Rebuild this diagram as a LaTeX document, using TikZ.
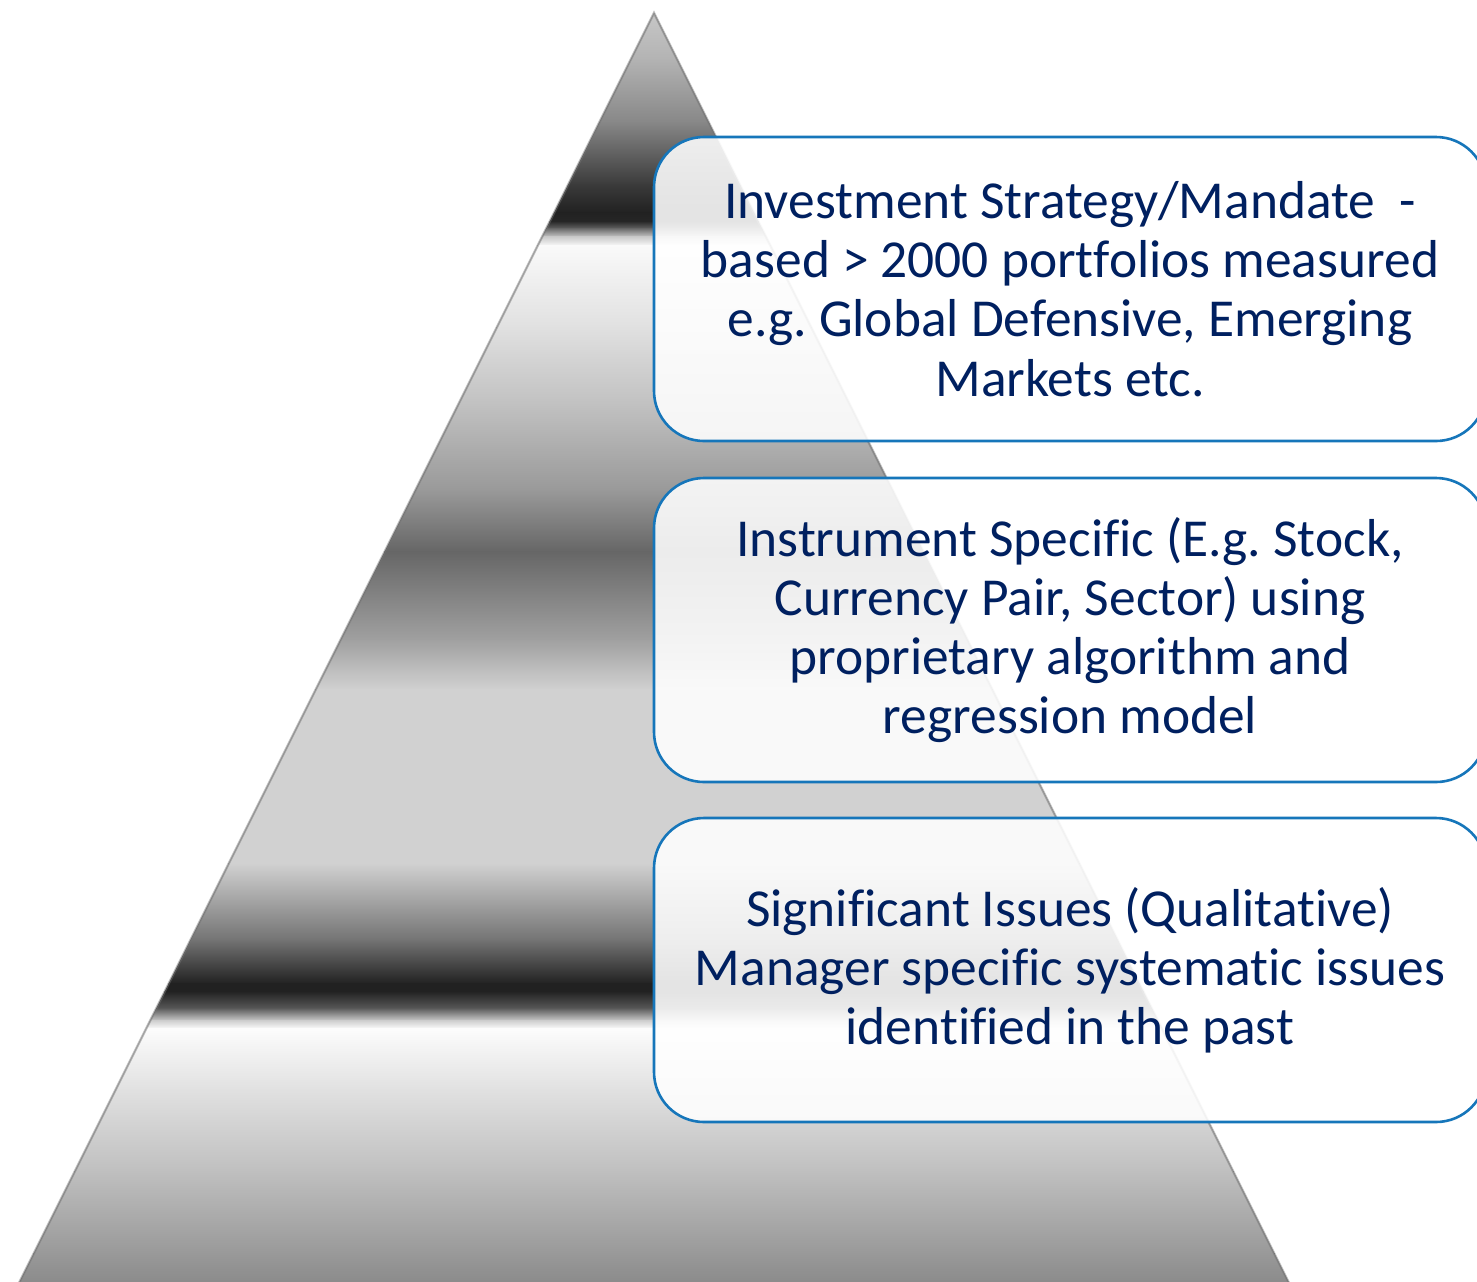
\documentclass[tikz,border=0pt]{standalone}
\usepackage{fontspec}
\setmainfont{Carlito}[Ligatures=NoCommon]
\definecolor{boxblue}{RGB}{22,118,186}
\definecolor{navytext}{RGB}{0,32,96}
\tikzset{
  infobox/.style={draw=boxblue, line width=1.3pt, fill=white, fill opacity=0.88, text opacity=1,
    rounded corners=25pt, minimum width=416pt, minimum height=152pt, align=center,
    text=navytext, font=\fontsize{26.7}{29.6}\selectfont\frenchspacing, inner sep=0pt},
  pyredge/.style={draw=black!55, line width=1.2pt, opacity=0.5}
}
\begin{document}
\begin{tikzpicture}[x=0.5pt,y=-0.5pt]
\useasboundingbox (0,0) rectangle (1477,1281);
\clip (0,0) rectangle (1477,1281);
\fill[white] (0,0) rectangle (1477,1281);
% pyramid
\coordinate (apex) at (654,13);
\coordinate (bl) at (15,1291);
\coordinate (br) at (1293,1291);
\begin{scope}
  \clip (apex) -- (bl) -- (br) -- cycle;
  \foreach \ya/\la/\yb/\lb in {
    0/80/60/70, 60/70/122/53, 122/53/184/23, 184/23/212/13, 212/13/221/15,
    221/15/228/40, 228/40/236/78, 236/78/245/98, 245/98/327/88, 327/88/408/75,
    408/75/490/60, 490/60/551/40, 551/40/640/63, 640/63/689/82, 689/82/863/82,
    863/82/940/45, 940/45/983/13, 983/13/991/13, 991/13/1008/35, 1008/35/1020/80,
    1020/80/1028/99, 1028/99/1090/88, 1090/88/1171/75, 1171/75/1253/60, 1253/60/1295/52}
  {
    \fill[top color=white!\la!black, bottom color=white!\lb!black] (0,\ya) rectangle (1477,\yb+1);
  }
\end{scope}
\draw[pyredge] (bl) -- (apex) -- (br);
% boxes
\node[infobox] (b1) at (1070,289) {Investment Strategy/Mandate\ \ -\\based > 2000 portfolios measured\\e.g. Global Defensive, Emerging\\Markets etc.};
\node[infobox] (b2) at (1070,630) {Instrument Specific (E.g. Stock,\\Currency Pair, Sector) using\\proprietary algorithm and\\regression model};
\node[infobox] (b3) at (1070,970) {Significant Issues (Qualitative)\\Manager specific systematic issues\\identified in the past};
\end{tikzpicture}
\end{document}
